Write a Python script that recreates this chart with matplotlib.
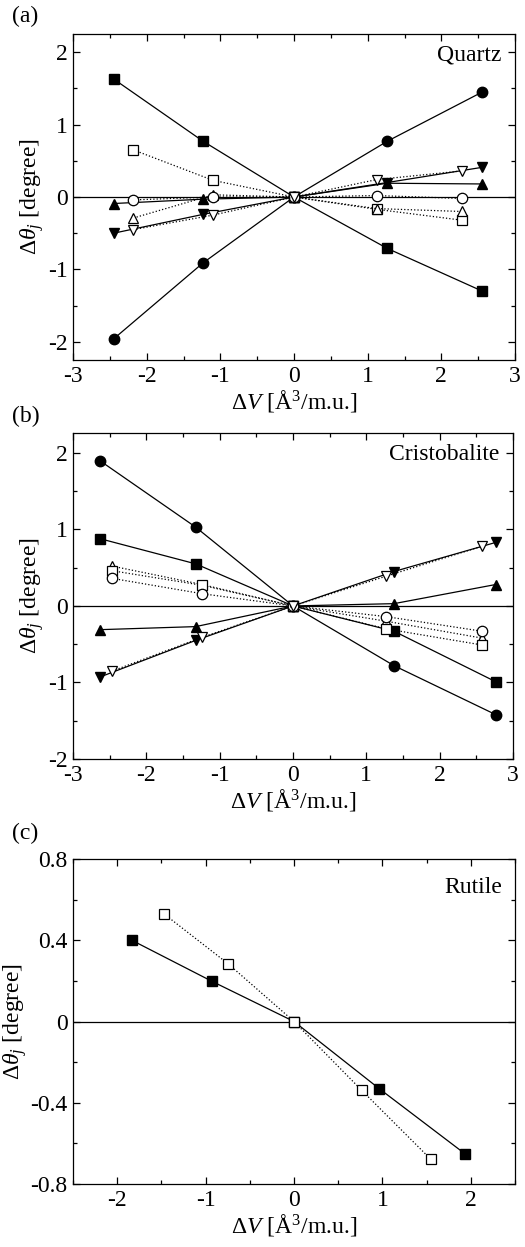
import matplotlib
matplotlib.use('Agg')
import matplotlib.pyplot as plt
from matplotlib.ticker import MultipleLocator, FuncFormatter

plt.rcParams['font.family'] = ['Liberation Serif', 'DejaVu Serif']
plt.rcParams['mathtext.fontset'] = 'custom'
plt.rcParams['mathtext.rm'] = 'Liberation Serif'
plt.rcParams['mathtext.it'] = 'Liberation Serif:italic'

# (a) Quartz
qz_x_fill = [-2.45, -1.235, 0.0, 1.267, 2.557]
qz_x_open = [-2.18, -1.10, 0.0, 1.12, 2.28]
qz_sq_fill = [1.63, 0.77, 0.0, -0.71, -1.30]
qz_ci_fill = [-1.96, -0.91, 0.0, 0.77, 1.45]
qz_up_fill = [-0.09, -0.03, 0.0, 0.19, 0.18]
qz_dn_fill = [-0.50, -0.24, 0.0, 0.20, 0.41]
qz_sq_open = [0.65, 0.23, 0.0, -0.17, -0.32]
qz_up_open = [-0.29, 0.03, 0.0, -0.16, -0.20]
qz_ci_open = [-0.04, 0.0, 0.0, 0.02, -0.02]
qz_dn_open = [-0.45, -0.25, 0.0, 0.24, 0.36]

# (b) Cristobalite
cr_x_fill = [-2.636, -1.327, 0.0, 1.377, 2.764]
cr_x_open = [-2.464, -1.24, 0.0, 1.273, 2.577]
cr_ci_fill = [1.90, 1.03, 0.0, -0.78, -1.42]
cr_sq_fill = [0.88, 0.55, 0.0, -0.33, -0.99]
cr_up_fill = [-0.31, -0.27, 0.0, 0.03, 0.28]
cr_dn_fill = [-0.93, -0.45, 0.0, 0.45, 0.83]
cr_up_open = [0.52, 0.28, 0.0, -0.20, -0.42]
cr_sq_open = [0.46, 0.27, 0.0, -0.30, -0.51]
cr_ci_open = [0.36, 0.16, 0.0, -0.14, -0.33]
cr_dn_open = [-0.85, -0.41, 0.0, 0.39, 0.78]

# (c) Rutile
ru_x_fill = [-1.835, -0.929, 0.0, 0.962, 1.93]
ru_sq_fill = [0.40, 0.198, 0.0, -0.33, -0.65]
ru_x_open = [-1.474, -0.745, 0.0, 0.764, 1.549]
ru_sq_open = [0.531, 0.284, 0.0, -0.338, -0.679]

fig = plt.figure(figsize=(5.25, 12.47), dpi=100)
W, H = 525.0, 1247.0
FS = 17


def make_ax(l, r, t, b):
    return fig.add_axes([l / W, 1 - b / H, (r - l) / W, (b - t) / H])


def filled(ax, x, y, m):
    ax.plot(x, y, '-', color='black', lw=0.9, marker=m, ms=7.5,
            mfc='black', mec='black', zorder=3)


def opened(ax, x, y, m):
    ax.plot(x, y, ':', color='black', lw=0.9, marker=m, ms=7.5,
            mfc='white', mec='black', mew=0.9, zorder=4)


def fmt(v, p):
    return '0' if abs(v) < 1e-9 else '%g' % v


def style(ax, xmaj, xmin, ymaj, ymin):
    ax.axhline(0, color='black', lw=0.9, zorder=1)
    ax.xaxis.set_major_locator(MultipleLocator(xmaj))
    ax.xaxis.set_minor_locator(MultipleLocator(xmin))
    ax.yaxis.set_major_locator(MultipleLocator(ymaj))
    ax.yaxis.set_minor_locator(MultipleLocator(ymin))
    ax.xaxis.set_major_formatter(FuncFormatter(fmt))
    ax.yaxis.set_major_formatter(FuncFormatter(fmt))
    ax.tick_params(which='both', direction='in', top=True, right=True,
                   labelsize=FS, width=0.9, pad=4)
    ax.tick_params(which='major', length=5)
    ax.tick_params(which='minor', length=3)
    for s in ax.spines.values():
        s.set_linewidth(0.9)
    ax.set_xlabel(r'$\mathit{ΔV}$ [Å$^{3}$/m.u.]', fontsize=FS, labelpad=1)
    ax.set_ylabel(r'$\mathit{Δθ_j}$ [degree]', fontsize=FS, labelpad=1)


# panel a
ax1 = make_ax(73, 515, 34, 360)
filled(ax1, qz_x_fill, qz_sq_fill, 's')
filled(ax1, qz_x_fill, qz_ci_fill, 'o')
filled(ax1, qz_x_fill, qz_up_fill, '^')
filled(ax1, qz_x_fill, qz_dn_fill, 'v')
opened(ax1, qz_x_open, qz_sq_open, 's')
opened(ax1, qz_x_open, qz_up_open, '^')
opened(ax1, qz_x_open, qz_ci_open, 'o')
opened(ax1, qz_x_open, qz_dn_open, 'v')
ax1.set_xlim(-3, 3)
ax1.set_ylim(-2.25, 2.25)
style(ax1, 1, 0.5, 1, 0.5)
ax1.text(0.97, 0.935, 'Quartz', transform=ax1.transAxes, ha='right',
         va='center', fontsize=FS)
fig.text(12 / W, 1 - 16 / H, '(a)', fontsize=FS, ha='left', va='center')

# panel b
ax2 = make_ax(73, 513, 433, 759)
filled(ax2, cr_x_fill, cr_ci_fill, 'o')
filled(ax2, cr_x_fill, cr_sq_fill, 's')
filled(ax2, cr_x_fill, cr_up_fill, '^')
filled(ax2, cr_x_fill, cr_dn_fill, 'v')
opened(ax2, cr_x_open, cr_up_open, '^')
opened(ax2, cr_x_open, cr_sq_open, 's')
opened(ax2, cr_x_open, cr_ci_open, 'o')
opened(ax2, cr_x_open, cr_dn_open, 'v')
ax2.set_xlim(-3, 3)
ax2.set_ylim(-2, 2.26)
style(ax2, 1, 0.5, 1, 0.5)
ax2.text(0.97, 0.935, 'Cristobalite', transform=ax2.transAxes, ha='right',
         va='center', fontsize=FS)
fig.text(12 / W, 1 - 416 / H, '(b)', fontsize=FS, ha='left', va='center')

# panel c
ax3 = make_ax(73, 515, 859, 1184)
filled(ax3, ru_x_fill, ru_sq_fill, 's')
opened(ax3, ru_x_open, ru_sq_open, 's')
ax3.set_xlim(-2.5, 2.5)
ax3.set_ylim(-0.8, 0.8)
style(ax3, 1, 0.5, 0.4, 0.2)
ax3.text(0.97, 0.912, 'Rutile', transform=ax3.transAxes, ha='right',
         va='center', fontsize=FS)
fig.text(12 / W, 1 - 833 / H, '(c)', fontsize=FS, ha='left', va='center')

fig.savefig('out.png', dpi=100)
